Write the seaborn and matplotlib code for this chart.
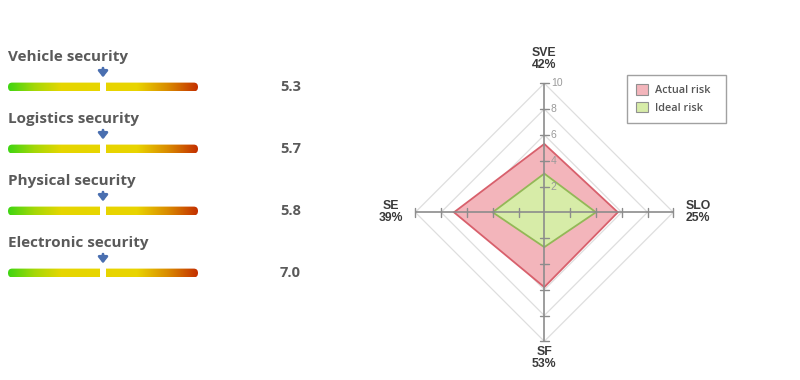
import numpy as np
import matplotlib
matplotlib.use("Agg")
import matplotlib.pyplot as plt
import seaborn as sns
from matplotlib.colors import LinearSegmentedColormap
from matplotlib.patches import FancyBboxPatch, Polygon, Patch, Rectangle

sns.set_theme(style="white")
plt.rcParams['font.family'] = ['Open Sans', 'DejaVu Sans']

# ---------------- data ----------------
categories = ["Vehicle security", "Logistics security", "Physical security", "Electronic security"]
scores = [5.3, 5.7, 5.8, 7.0]
marker_pos = [5.0, 5.0, 5.0, 5.0]

radar_axes = ["SVE", "SLO", "SF", "SE"]
radar_share = ["42%", "25%", "53%", "39%"]
actual_risk = [5.3, 5.7, 5.8, 7.0]
ideal_risk = [3.0, 4.0, 2.7, 4.0]
radial_ticks = [2, 4, 6, 8, 10]
legend_labels = ["Actual risk", "Ideal risk"]

# ---------------- figure ----------------
W, H = 800, 380
fig = plt.figure(figsize=(W / 100, H / 100), dpi=100)
fig.patch.set_facecolor("white")

# ----- left panel: gradient gauges -----
row_px = 62.0
first_px = 87.0
axL = fig.add_axes([8 / W, 0, 190 / W, 1])
axL.set_xlim(0, 10)
axL.set_ylim((H - first_px) / row_px, -first_px / row_px)
axL.axis("off")

cmap = LinearSegmentedColormap.from_list(
    "risk",
    [(0.0, "#3fd512"), (0.14, "#a6d807"), (0.28, "#e6d600"), (0.68, "#e9d400"),
     (0.84, "#da8c00"), (1.0, "#c43000")])
grad = np.linspace(0, 1, 256)[None, :]
half_h = 4.4 / row_px
rsize = 0.22
for i, (name, score, mpos) in enumerate(zip(categories, scores, marker_pos)):
    im = axL.imshow(grad, cmap=cmap, aspect="auto",
                    extent=(0, 10, i + half_h, i - half_h), interpolation="bilinear")
    clip = FancyBboxPatch((0, i - half_h), 10, 2 * half_h,
                          boxstyle=f"round,pad=0,rounding_size={rsize}",
                          mutation_aspect=half_h / rsize,
                          facecolor="none", edgecolor="none", transform=axL.transData)
    axL.add_patch(clip)
    im.set_clip_path(clip)
    # gap at the marker
    axL.add_patch(Rectangle((mpos - 0.15, i - half_h * 1.5), 0.30, 3 * half_h,
                            facecolor="white", edgecolor="none", zorder=3))
    # arrow
    axL.annotate("", xy=(mpos, i - 0.155), xytext=(mpos, i - 0.305),
                 arrowprops=dict(arrowstyle="-|>,head_width=0.4,head_length=0.5",
                                 color="#4a6fb0", lw=2.0, mutation_scale=7,
                                 shrinkA=0, shrinkB=0),
                 annotation_clip=False)
    axL.text(0, i - 0.48, name, ha="left", va="center", fontsize=11,
             fontweight="bold", color="#5a5a5a", clip_on=False)
    axL.text(15.42, i, f"{score:.1f}", ha="right", va="center", fontsize=10.5,
             fontweight="bold", color="#5a5a5a", clip_on=False)

# ----- right panel: radar -----
u = 12.9
cx, cy = 544.3, 212.3
xl, xr, yb, yt = -13, 16, -13, 13
axR = fig.add_axes([(cx + xl * u) / W, (H - cy + yb * u) / H,
                    (xr - xl) * u / W, (yt - yb) * u / H])
axR.set_xlim(xl, xr)
axR.set_ylim(yb, yt)
axR.set_aspect("equal")
axR.axis("off")

ang = np.deg2rad(90 - 90 * np.arange(len(radar_axes)))
dx, dy = np.cos(ang), np.sin(ang)

def pts(vals):
    v = np.asarray(vals, dtype=float)
    return np.column_stack([v * dx, v * dy])

for r in radial_ticks:
    axR.add_patch(Polygon(pts([r] * len(radar_axes)), closed=True, fill=False,
                          edgecolor="#dedede", lw=0.9, zorder=1))

axR.add_patch(Polygon(pts(actual_risk), closed=True, facecolor="#f3b5bb",
                      edgecolor="#d8606c", lw=1.3, zorder=2))
axR.add_patch(Polygon(pts(ideal_risk), closed=True, facecolor="#d7eca8",
                      edgecolor="#93b857", lw=1.3, zorder=3))

rmax = max(radial_ticks)
for k in range(len(radar_axes)):
    axR.plot([0, rmax * dx[k]], [0, rmax * dy[k]], color="#8c8c8c", lw=1.2, zorder=4,
             solid_capstyle="butt")
    for r in radial_ticks:
        px, py = r * dx[k], r * dy[k]
        tx, ty = -dy[k] * 0.33, dx[k] * 0.33
        axR.plot([px - tx, px + tx], [py - ty, py + ty], color="#8c8c8c", lw=1.0, zorder=4)

for r in radial_ticks:
    axR.text(0.5, r, str(r), ha="left", va="center", fontsize=7.5,
             color="#9a9a9a", family="Liberation Sans", zorder=5)

label_r = [11.85, 11.9, 11.3, 11.9]
for k, (name, share) in enumerate(zip(radar_axes, radar_share)):
    axR.text(label_r[k] * dx[k], label_r[k] * dy[k], f"{name}\n{share}",
             ha="center", va="center", multialignment="center", fontsize=8.8,
             fontweight="bold", color="#3a3a3a", family="Liberation Sans",
             linespacing=1.0, clip_on=False)

handles = [Patch(facecolor="#f3b5bb", edgecolor="#909090", lw=0.8),
           Patch(facecolor="#d7eca8", edgecolor="#909090", lw=0.8)]
leg = axR.legend(handles, legend_labels, loc="upper left", mode="expand",
                 bbox_to_anchor=(627 / W, 1 - 122 / H, 99 / W, 47 / H),
                 bbox_transform=fig.transFigure,
                 fancybox=False, frameon=True, fontsize=7.8, handlelength=1.1,
                 handleheight=1.1, handletextpad=0.65, borderpad=0.85, labelspacing=0.55,
                 borderaxespad=0)
leg.get_frame().set_edgecolor("#8a8a8a")
leg.get_frame().set_linewidth(1.0)
for t in leg.get_texts():
    t.set_color("#555555")
    t.set_fontweight("semibold")

fig.savefig("out.png", dpi=100, facecolor="white")
